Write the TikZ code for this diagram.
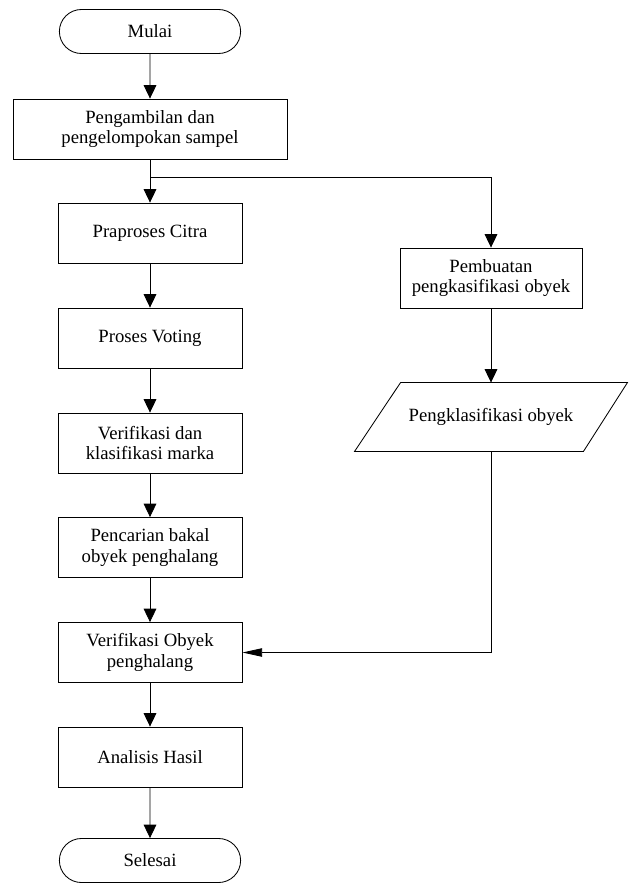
\documentclass[tikz,border=0pt]{standalone}
\usepackage{fontspec}
\setmainfont{Liberation Serif}
\usetikzlibrary{shapes.misc,arrows.meta,calc}

\begin{document}
\begin{tikzpicture}[x=0.025cm,y=-0.025cm,line width=0.6pt,
  font=\fontsize{13.3}{14.6}\selectfont,
  term/.style={draw,rounded rectangle,minimum width=4.6cm,minimum height=1.1cm,inner sep=1pt},
  proc/.style={draw,rectangle,minimum width=4.6cm,minimum height=1.5cm,align=center,inner sep=2pt},
  io/.style={minimum width=6.8cm,minimum height=1.7cm,align=center,inner sep=0pt},
  flow/.style={-{Triangle[length=9.5pt,width=9pt]}},
  back/.style={-{Triangle[length=14pt,width=6pt]}}]
  \useasboundingbox (0,0) rectangle (630,883);
  % kolom kiri
  \node[term] (mulai) at (150,31.5){Mulai};
  \node[proc,minimum width=6.85cm] (ambil) at (150,129){Pengambilan dan\\pengelompokan sampel};
  \node[proc] (praproses) at (150,233){Praproses Citra};
  \node[proc] (voting) at (150,338){Proses Voting};
  \node[proc] (marka) at (150,443){Verifikasi dan\\klasifikasi marka};
  \node[proc] (bakal) at (150,547.5){Pencarian bakal\\obyek penghalang};
  \node[proc] (verif) at (150,652.5){Verifikasi Obyek\\penghalang};
  \node[proc] (hasil) at (150,757){Analisis Hasil};
  \node[term] (selesai) at (150,860.5){Selesai};
  % kolom kanan
  \node[proc,minimum width=4.55cm] (buat) at (491,278){Pembuatan\\pengkasifikasi obyek};
  \node[io] (klas) at (491,417){Pengklasifikasi obyek};
  \draw ($(klas.north west)+(46,0)$) -- (klas.north east)
    -- ($(klas.south east)+(-44,0)$) -- (klas.south west) -- cycle;
  \coordinate (cabang) at (150,177);
  % panah
  \draw[flow] (mulai) -- (ambil);
  \draw[flow] (ambil) -- (praproses);
  \draw[flow] (cabang) -| (buat);
  \draw[flow] (praproses) -- (voting);
  \draw[flow] (voting) -- (marka);
  \draw[flow] (marka) -- (bakal);
  \draw[flow] (bakal) -- (verif);
  \draw[flow] (verif) -- (hasil);
  \draw[flow] (hasil) -- (selesai);
  \draw[flow] (buat) -- (klas);
  \draw[back] (klas.south) |- (verif.east);
\end{tikzpicture}
\end{document}
